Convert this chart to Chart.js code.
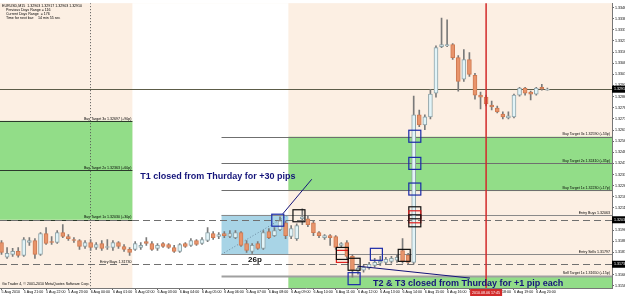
<!DOCTYPE html>
<html>
<head>
<meta charset="utf-8">
<script src="https://cdn.jsdelivr.net/npm/chart.js@4.4.1/dist/chart.umd.min.js"></script>
<style>
  html, body { margin: 0; padding: 0; background: #ffffff; }
  #box { width: 625px; height: 296px; }
</style>
</head>
<body>
<div id="box"><canvas id="eurChart"></canvas></div>
<script>
/* ===== DATA (EURUSD M15, 5 Aug 20:00 -> 6 Aug 20:30) ===== */
const hourLabels = [
  "5 Aug 2010", "5 Aug 21:00", "5 Aug 22:00", "5 Aug 23:00",
  "6 Aug 00:00", "6 Aug 01:00", "6 Aug 02:00", "6 Aug 03:00", "6 Aug 04:00",
  "6 Aug 05:00", "6 Aug 06:00", "6 Aug 07:00", "6 Aug 08:00", "6 Aug 09:00",
  "6 Aug 10:00", "6 Aug 11:00", "6 Aug 12:00", "6 Aug 13:00", "6 Aug 14:00",
  "6 Aug 15:00", "6 Aug 16:00", "6 Aug 17:00", "6 Aug 18:00", "6 Aug 19:00",
  "6 Aug 20:00",
];

const openP = [
  1.31877, 1.31777, 1.31797, 1.31817, 1.31790, 1.31877, 1.31890, 1.31797, 1.31937, 1.31883,
  1.31877, 1.31943, 1.31917, 1.31897, 1.31890, 1.31850, 1.31877, 1.31843, 1.31870, 1.31843,
  1.31843, 1.31877, 1.31850, 1.31830, 1.31830, 1.31843, 1.31883, 1.31870, 1.31837, 1.31870,
  1.31863, 1.31843, 1.31817, 1.31870, 1.31857, 1.31890, 1.31870, 1.31890, 1.31937, 1.31917,
  1.31937, 1.31917, 1.31910, 1.31943, 1.31870, 1.31817, 1.31870, 1.31837, 1.31950, 1.31923,
  1.31963, 1.32010, 1.31917, 1.31903, 1.32037, 1.32037, 1.32010, 1.31943, 1.31910, 1.31923,
  1.31917, 1.31857, 1.31877, 1.31783, 1.31683, 1.31690, 1.31703, 1.31723, 1.31737, 1.31743,
  1.31750, 1.31757, 1.31823, 1.31790, 1.31743, 1.32737, 1.32670, 1.32723, 1.32883, 1.33197,
  1.33203, 1.33210, 1.33123, 1.32977, 1.33110, 1.33003, 1.32870, 1.32857, 1.32803, 1.32783,
  1.32743, 1.32717, 1.32723, 1.32870, 1.32917, 1.32890, 1.32877, 1.32923, 1.32903,
];
const highP = [
  1.31890, 1.31843, 1.31837, 1.31843, 1.31910, 1.31910, 1.31903, 1.31943, 1.31977, 1.31917,
  1.31957, 1.31997, 1.31930, 1.31910, 1.31897, 1.31890, 1.31897, 1.31877, 1.31890, 1.31897,
  1.31890, 1.31883, 1.31863, 1.31843, 1.31883, 1.31877, 1.31910, 1.31883, 1.31870, 1.31877,
  1.31870, 1.31857, 1.31870, 1.31877, 1.31903, 1.31897, 1.31910, 1.31977, 1.31950, 1.31943,
  1.31950, 1.31957, 1.31957, 1.31950, 1.31890, 1.31870, 1.31883, 1.31957, 1.31970, 1.31977,
  1.32050, 1.32023, 1.31990, 1.32003, 1.32103, 1.32057, 1.32023, 1.31950, 1.31930, 1.31930,
  1.31923, 1.31877, 1.31890, 1.31797, 1.31717, 1.31723, 1.31743, 1.31770, 1.31783, 1.31777,
  1.31783, 1.31790, 1.31903, 1.31803, 1.32863, 1.32770, 1.32737, 1.32910, 1.33203, 1.33390,
  1.33377, 1.33217, 1.33137, 1.33177, 1.33157, 1.33017, 1.32890, 1.32870, 1.32830, 1.32797,
  1.32757, 1.32757, 1.32877, 1.32923, 1.32923, 1.32897, 1.32923, 1.32943, 1.32917,
];
const lowP = [
  1.31797, 1.31770, 1.31783, 1.31777, 1.31783, 1.31857, 1.31770, 1.31790, 1.31863, 1.31863,
  1.31870, 1.31910, 1.31890, 1.31877, 1.31830, 1.31837, 1.31823, 1.31830, 1.31823, 1.31830,
  1.31823, 1.31837, 1.31817, 1.31790, 1.31823, 1.31830, 1.31857, 1.31823, 1.31823, 1.31843,
  1.31837, 1.31810, 1.31810, 1.31843, 1.31850, 1.31857, 1.31863, 1.31883, 1.31897, 1.31903,
  1.31910, 1.31910, 1.31903, 1.31850, 1.31810, 1.31803, 1.31830, 1.31830, 1.31903, 1.31917,
  1.31957, 1.31903, 1.31903, 1.31890, 1.31997, 1.31983, 1.31923, 1.31910, 1.31897, 1.31857,
  1.31830, 1.31843, 1.31770, 1.31643, 1.31663, 1.31677, 1.31697, 1.31710, 1.31723, 1.31730,
  1.31737, 1.31743, 1.31737, 1.31730, 1.31730, 1.32657, 1.32637, 1.32710, 1.32857, 1.33190,
  1.33197, 1.33110, 1.32897, 1.32963, 1.32997, 1.32843, 1.32777, 1.32797, 1.32770, 1.32750,
  1.32710, 1.32710, 1.32717, 1.32863, 1.32870, 1.32837, 1.32870, 1.32903, 1.32903,
];
const closeP = [
  1.31810, 1.31803, 1.31817, 1.31790, 1.31897, 1.31890, 1.31797, 1.31937, 1.31870, 1.31877,
  1.31943, 1.31917, 1.31903, 1.31890, 1.31850, 1.31877, 1.31843, 1.31863, 1.31837, 1.31850,
  1.31877, 1.31850, 1.31830, 1.31810, 1.31870, 1.31857, 1.31870, 1.31830, 1.31857, 1.31850,
  1.31843, 1.31817, 1.31863, 1.31850, 1.31890, 1.31863, 1.31897, 1.31943, 1.31910, 1.31930,
  1.31923, 1.31937, 1.31943, 1.31857, 1.31823, 1.31857, 1.31837, 1.31943, 1.31910, 1.31957,
  1.32023, 1.31923, 1.31970, 1.31990, 1.32050, 1.31997, 1.31943, 1.31923, 1.31923, 1.31910,
  1.31843, 1.31870, 1.31783, 1.31690, 1.31703, 1.31710, 1.31730, 1.31743, 1.31750, 1.31763,
  1.31770, 1.31777, 1.31750, 1.31743, 1.32737, 1.32670, 1.32723, 1.32877, 1.33190, 1.33210,
  1.33210, 1.33123, 1.32963, 1.33110, 1.33010, 1.32870, 1.32857, 1.32810, 1.32790, 1.32757,
  1.32723, 1.32730, 1.32870, 1.32917, 1.32883, 1.32877, 1.32917, 1.32910, 1.32910,
];

const priceTicks = [
  1.33460, 1.33385, 1.33310, 1.33235, 1.33160, 1.33085, 1.33010, 1.32935, 1.32860,
  1.32785, 1.32710, 1.32635, 1.32560, 1.32485, 1.32410, 1.32335, 1.32260, 1.32185,
  1.32110, 1.32035, 1.31960, 1.31885, 1.31810, 1.31735, 1.31660, 1.31585,
];

// Thursday levels (left block) and Friday levels (right block)
const leftTargets = [1.32697, 1.32363, 1.32030];
const leftTargetNames = ["Buy Target 3x 1.32697 (+90p)", "Buy Target 2x 1.32363 (+60p)", "Buy Target 1x 1.32030 (+30p)"];
const leftEntryBuy = 1.31730;
const rightTargets = [1.32590, 1.32410, 1.32230];
const rightTargetNames = ["Buy Target 3x 1.32590 (+53p)", "Buy Target 2x 1.32410 (+35p)", "Buy Target 1x 1.32230 (+17p)"];
const entryBuy = 1.32063;
const entrySell = 1.31797;
const sellTarget = 1.31650;
const dashedLevels = [1.32030, 1.31730];
const currentPrice = 1.32910;

// zone boundaries in bar units
const zoneBars = [23.5, 39.5, 51.5];
const daySeparatorBar = 15.8;
const redLineBar = 87;
const redLineLabel = "2010.08.06 17:45";

// trade markers: bar, price, colour
const markerBars = [49.6, 53.4, 61.2, 61.2, 63.3, 63.3, 67.3, 72.3, 74.2, 74.2, 74.2, 74.2, 74.2, 74.2];
const markerPrices = [1.32027, 1.32057, 1.31783, 1.31803, 1.31730, 1.31633, 1.31797, 1.31790,
  1.32593, 1.32410, 1.32237, 1.32077, 1.32050, 1.32023];
const markerKinds = ["blue", "black", "red", "black", "black", "blue", "blue", "black",
  "blue", "blue", "blue", "black", "red", "black"];

const BEIGE = "#fcefe3";
const GREEN = "#92dd88";
const RANGE_BLUE = "#a8d4e6";
const NAVY = "#14147a";
const FONT = "'Liberation Sans', Arial, sans-serif";
const BOXCOL = { blue: "#1a2aa8", black: "#111111", red: "#e02020" };

/* ===== OVERLAY PLUGIN ===== */
function hline(ctx, x1, x2, yy, color, width, dash) {
  ctx.save();
  ctx.strokeStyle = color;
  ctx.lineWidth = width;
  ctx.setLineDash(dash || []);
  ctx.beginPath();
  ctx.moveTo(x1, Math.round(yy) + 0.5);
  ctx.lineTo(x2, Math.round(yy) + 0.5);
  ctx.stroke();
  ctx.restore();
}

function tinyText(ctx, str, xx, yy, align) {
  ctx.save();
  ctx.font = "3.6px " + FONT;
  ctx.fillStyle = "#000";
  ctx.textAlign = align || "right";
  ctx.textBaseline = "bottom";
  ctx.fillText(str, xx, yy);
  ctx.restore();
}

const overlay = {
  id: "overlay",
  beforeDraw(chart) {
    const { ctx, chartArea: a, scales: { x, y } } = chart;
    const X = (v) => x.getPixelForValue(v);
    const Y = (v) => y.getPixelForValue(v);
    ctx.save();
    ctx.fillStyle = BEIGE;
    ctx.fillRect(a.left, a.top, a.width, a.height);
    const z0 = X(zoneBars[0]), z1 = X(zoneBars[1]), z2 = X(zoneBars[2]);
    ctx.fillStyle = "#ffffff";
    ctx.fillRect(z0, a.top, z2 - z0, a.height);
    ctx.fillStyle = GREEN;
    ctx.fillRect(a.left, Y(leftTargets[0]), z0 - a.left, Y(leftTargets[2]) - Y(leftTargets[0]));
    ctx.fillRect(z2, Y(rightTargets[0]), a.right - z2, Y(rightTargets[2]) - Y(rightTargets[0]) + 1);
    ctx.fillRect(z2, Y(sellTarget), a.right - z2, a.bottom - Y(sellTarget));
    ctx.fillStyle = RANGE_BLUE;
    ctx.fillRect(z1, Y(entryBuy), z2 - z1, Y(entrySell) - Y(entryBuy));
    ctx.restore();
  },
  beforeDatasetsDraw(chart) {
    const { ctx, chartArea: a, scales: { x, y } } = chart;
    const X = (v) => x.getPixelForValue(v);
    const Y = (v) => y.getPixelForValue(v);
    const z0 = X(zoneBars[0]), z1 = X(zoneBars[1]);
    ctx.save();
    ctx.beginPath();
    ctx.rect(a.left, a.top, a.width, a.height);
    ctx.clip();

    // range diagonal
    ctx.save();
    ctx.strokeStyle = "#6a8aa0";
    ctx.setLineDash([1, 2]);
    ctx.beginPath();
    ctx.moveTo(z1, Y(entrySell));
    ctx.lineTo(X(zoneBars[2]), Y(entryBuy));
    ctx.stroke();
    ctx.restore();

    // left block
    leftTargets.forEach((p, k) => {
      hline(ctx, a.left, z0, Y(p), "#2c3a2c", 1);
      tinyText(ctx, leftTargetNames[k], z0 - 1, Y(p) - 0.5);
    });
    tinyText(ctx, "Entry Buys 1.31730", z0 - 1, Y(leftEntryBuy) - 0.5);

    // right block
    rightTargets.forEach((p, k) => {
      hline(ctx, z1, a.right, Y(p), "#6f6f6f", 1);
      tinyText(ctx, rightTargetNames[k], a.right - 2, Y(p) - 0.5);
    });
    hline(ctx, z1, a.right, Y(entryBuy), "#8a8a8a", 1);
    tinyText(ctx, "Entry Buys 1.32063", a.right - 2, Y(entryBuy) - 0.5);
    hline(ctx, z1, a.right, Y(entrySell), "#8a8a8a", 1);
    tinyText(ctx, "Entry Sells 1.31797", a.right - 2, Y(entrySell) - 0.5);
    hline(ctx, z1, a.right, Y(sellTarget), "#a0a0a0", 2);
    tinyText(ctx, "Sell Target 1x 1.31650 (+15p)", a.right - 2, Y(sellTarget) - 1);

    dashedLevels.forEach((p) => hline(ctx, a.left, a.right, Y(p), "#707070", 1, [7, 4]));
    hline(ctx, a.left, a.right, Y(currentPrice), "#5c5c48", 1);

    // day separator
    ctx.save();
    ctx.strokeStyle = "#555";
    ctx.setLineDash([1, 2]);
    ctx.beginPath();
    ctx.moveTo(Math.round(X(daySeparatorBar)) + 0.5, a.top);
    ctx.lineTo(Math.round(X(daySeparatorBar)) + 0.5, a.bottom);
    ctx.stroke();
    ctx.restore();
    ctx.restore();
  },
  afterDatasetsDraw(chart) {
    const { ctx, chartArea: a, scales: { x, y } } = chart;
    const X = (v) => x.getPixelForValue(v);
    const Y = (v) => y.getPixelForValue(v);
    ctx.save();

    // red vertical line
    ctx.strokeStyle = "#d22a2a";
    ctx.lineWidth = 1.5;
    ctx.beginPath();
    ctx.moveTo(X(redLineBar), a.top);
    ctx.lineTo(X(redLineBar), a.bottom);
    ctx.stroke();

    // connector lines
    ctx.strokeStyle = NAVY;
    ctx.lineWidth = 1;
    ctx.beginPath();
    ctx.moveTo(X(50.5), Y(1.32070));
    ctx.lineTo(X(55.7), Y(1.32303));
    ctx.moveTo(X(64), Y(1.31717));
    ctx.lineTo(X(84.1), Y(1.31637));
    ctx.stroke();

    // marker squares
    ctx.lineWidth = 1.2;
    markerBars.forEach((b, k) => {
      ctx.strokeStyle = BOXCOL[markerKinds[k]];
      ctx.strokeRect(X(b) - 6, Y(markerPrices[k]) - 6, 12, 12);
    });

    // annotations
    ctx.fillStyle = NAVY;
    ctx.font = "bold 9px " + FONT;
    ctx.textBaseline = "alphabetic";
    ctx.textAlign = "left";
    ctx.fillText("T1 closed from Thurday for +30 pips", X(24.9), Y(1.32303));
    ctx.textBaseline = "middle";
    ctx.fillText("T2 & T3 closed from Thurday for +1 pip each", X(66.7), Y(1.31603));
    ctx.fillStyle = "#111";
    ctx.font = "bold 8px " + FONT;
    ctx.textAlign = "center";
    ctx.fillText("26p", X(45.5), Y(1.31763));

    // header + footer text
    tinyText(ctx, "EURUSD,M15  1.32903 1.32917 1.32903 1.32910", a.left + 2, a.top + 5, "left");
    tinyText(ctx, "Previous Days Range = 116", a.left + 6, a.top + 9, "left");
    tinyText(ctx, "Current Days Range  = 176", a.left + 6, a.top + 13, "left");
    tinyText(ctx, "Time for next bar:    14 min 55 sec", a.left + 6, a.top + 17, "left");
    tinyText(ctx, "Go Trader 4, \u00a9 2001-2010 MetaQuotes Software Corp.", a.left + 2, a.bottom - 2, "left");

    // highlighted price labels on axis
    ctx.font = "3.6px " + FONT;
    ctx.textAlign = "left";
    ctx.textBaseline = "middle";
    [currentPrice].concat(dashedLevels).forEach((p) => {
      const yy = Y(p);
      ctx.fillStyle = "#000";
      ctx.fillRect(a.right, yy - 3.5, 13, 7);
      ctx.fillStyle = "#fff";
      ctx.fillText(p.toFixed(5), a.right + 2, yy);
    });

    // red time label
    const rx = X(redLineBar);
    ctx.fillStyle = "#d22a2a";
    ctx.fillRect(rx - 16, a.bottom + 1, 32, 7);
    ctx.fillStyle = "#fff";
    ctx.textAlign = "center";
    ctx.fillText(redLineLabel, rx, a.bottom + 4.5);
    ctx.restore();
  },
};

/* ===== CANDLE CHART ===== */
const isBull = (i) => closeP[i] >= openP[i];

new Chart(document.getElementById("eurChart"), {
  type: "bar",
  data: {
    datasets: [
      {
        label: "Body",
        data: openP.map((o, i) => ({ x: i, y: [o, closeP[i]] })),
        grouped: false,
        barThickness: 4,
        borderWidth: 1,
        borderSkipped: false,
        backgroundColor: (c) => (isBull(c.dataIndex) ? "#e2f4f8" : "#e8946b"),
        borderColor: (c) => (isBull(c.dataIndex) ? "#8ea3a8" : "#cf7a52"),
      },
      {
        label: "Wick",
        data: lowP.map((l, i) => ({ x: i, y: [l, highP[i]] })),
        grouped: false,
        barThickness: 1,
        backgroundColor: "#7a7a7a",
      },
    ],
  },
  options: {
    animation: false,
    responsive: true,
    maintainAspectRatio: false,
    layout: { padding: 0 },
    plugins: { legend: { display: false }, tooltip: { enabled: false } },
    scales: {
      x: {
        type: "linear",
        min: -0.27,
        max: 109.6,
        offset: false,
        grid: { display: true, offset: false, drawOnChartArea: false, tickLength: 2, color: "#666" },
        border: { display: true, color: "#777" },
        afterBuildTicks: (s) => { s.ticks = hourLabels.map((_, k) => ({ value: k * 4 })); },
        afterFit: (s) => { s.height = 8; },
        ticks: {
          autoSkip: false,
          maxRotation: 0,
          align: "start",
          padding: 0,
          color: "#000",
          font: { size: 3.6, family: FONT },
          callback: (v, k) => hourLabels[k],
        },
      },
      y: {
        type: "linear",
        position: "right",
        min: 1.3157,
        max: 1.3349,
        grid: { display: true, drawOnChartArea: false, tickLength: 2, color: "#666" },
        border: { display: true, color: "#777" },
        afterBuildTicks: (s) => { s.ticks = priceTicks.map((v) => ({ value: v })); },
        afterFit: (s) => { s.width = 13; },
        ticks: {
          padding: 1,
          color: "#000",
          font: { size: 3.6, family: FONT },
          callback: (v) => v.toFixed(5),
        },
      },
    },
  },
  plugins: [overlay],
});
</script>
</body>
</html>
